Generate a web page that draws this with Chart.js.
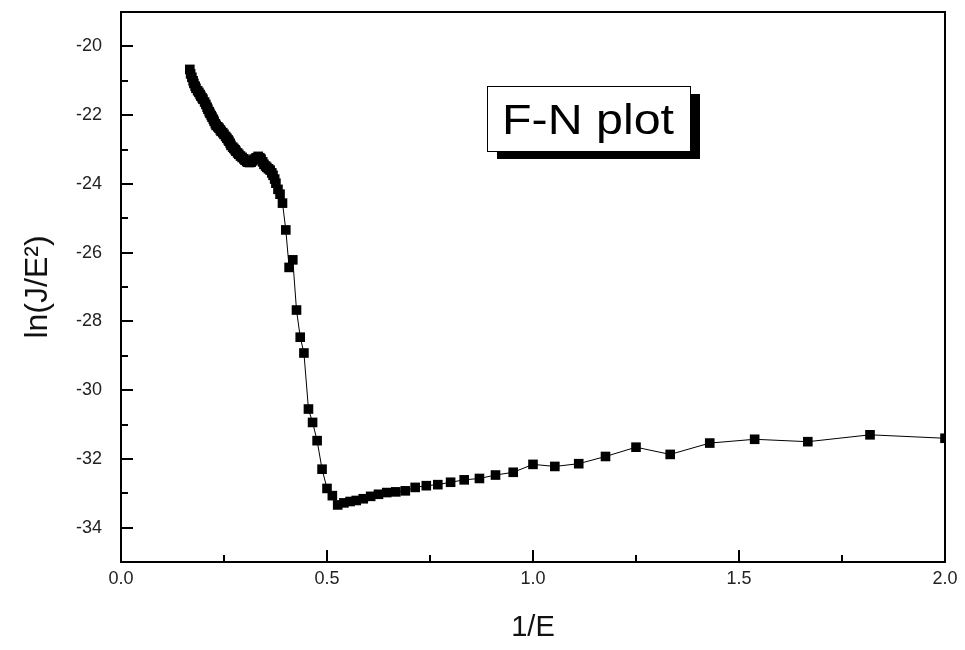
<!DOCTYPE html>
<html>
<head>
<meta charset="utf-8">
<script src="https://cdn.jsdelivr.net/npm/chart.js@4/dist/chart.umd.min.js"></script>
<style>
html,body{margin:0;padding:0;background:#fff;}
#wrap{width:965px;height:650px;position:relative;}
</style>
</head>
<body>
<div id="wrap"><canvas id="c" width="965" height="650"></canvas></div>
<script>
// 1/E values
const invE = [0.167,0.169,0.172,0.175,0.177,0.180,0.182,0.186,0.189,0.192,0.194,0.197,0.199,0.203,0.206,0.209,0.211,0.214,0.216,0.219,0.221,0.224,0.226,0.229,0.231,0.235,0.238,0.241,0.243,0.247,0.250,0.254,0.257,0.260,0.262,0.265,0.267,0.271,0.274,0.277,0.279,0.283,0.286,0.290,0.294,0.298,0.301,0.305,0.308,0.312,0.316,0.320,0.323,0.328,0.333,0.337,0.340,0.344,0.347,0.351,0.354,0.358,0.362,0.366,0.369,0.373,0.376,0.381,0.386,0.392,0.400,0.408,0.417,0.426,0.435,0.444,0.455,0.465,0.476,0.488,0.500,0.513,0.526,0.541,0.556,0.571,0.588,0.606,0.625,0.645,0.667,0.690,0.714,0.741,0.769,0.800,0.833,0.870,0.909,0.952,1.000,1.053,1.111,1.176,1.250,1.333,1.429,1.538,1.667,1.818,2.000];
// ln(J/E^2) values
const lnJE2 = [-20.67,-20.80,-20.90,-21.00,-21.08,-21.16,-21.22,-21.29,-21.34,-21.40,-21.45,-21.50,-21.54,-21.62,-21.69,-21.77,-21.83,-21.90,-21.95,-22.01,-22.06,-22.12,-22.18,-22.25,-22.30,-22.34,-22.38,-22.43,-22.47,-22.51,-22.56,-22.62,-22.67,-22.72,-22.76,-22.82,-22.88,-22.93,-22.97,-23.01,-23.05,-23.10,-23.14,-23.19,-23.23,-23.27,-23.31,-23.35,-23.37,-23.38,-23.37,-23.33,-23.28,-23.24,-23.20,-23.24,-23.28,-23.36,-23.43,-23.48,-23.52,-23.56,-23.60,-23.68,-23.75,-23.86,-23.98,-24.16,-24.30,-24.56,-25.34,-26.43,-26.21,-27.67,-28.46,-28.92,-30.55,-30.94,-31.47,-32.30,-32.86,-33.07,-33.34,-33.28,-33.24,-33.21,-33.16,-33.09,-33.03,-32.98,-32.96,-32.93,-32.83,-32.78,-32.75,-32.68,-32.61,-32.57,-32.47,-32.39,-32.16,-32.22,-32.14,-31.93,-31.66,-31.87,-31.54,-31.43,-31.50,-31.30,-31.40];
// axis tick labels
const xTickLabels = ['0.0','0.5','1.0','1.5','2.0'];
const yTickLabels = ['-34','-32','-30','-28','-26','-24','-22','-20'];
const xTitle = '1/E';
const yTitle = 'ln(J/E\u00B2)';
const boxText = 'F-N plot';

const points = invE.map((x,i)=>({x:x,y:lnJE2[i]}));

const frameTicks = {
  id:'frameTicks',
  afterDraw(chart){
    const ctx = chart.ctx, a = chart.chartArea;
    const xs = chart.scales.x, ys = chart.scales.y;
    ctx.save();
    ctx.strokeStyle = '#000';
    ctx.lineWidth = 2;
    ys.ticks.forEach(t=>{
      const major = yTickLabels.indexOf(String(t.value)) >= 0;
      const p = Math.round(ys.getPixelForValue(t.value));
      if (t.value === ys.min || t.value === ys.max) return;
      ctx.beginPath();
      ctx.moveTo(a.left, p);
      ctx.lineTo(a.left + (major ? 12 : 7), p);
      ctx.stroke();
    });
    xs.ticks.forEach(t=>{
      const major = Math.abs(t.value*2-Math.round(t.value*2))<1e-6 && xTickLabels.indexOf(t.value.toFixed(1)) >= 0;
      const p = Math.round(xs.getPixelForValue(t.value));
      if (t.value === xs.min || t.value === xs.max) return;
      ctx.beginPath();
      ctx.moveTo(p, a.bottom);
      ctx.lineTo(p, a.bottom - (major ? 12 : 7));
      ctx.stroke();
    });
    ctx.lineWidth = 2;
    ctx.strokeRect(a.left, a.top, a.right - a.left, a.bottom - a.top);
    // text box with shadow
    const bx = 487, by = 86, bw = 203, bh = 65;
    ctx.fillStyle = '#000';
    ctx.fillRect(bx + 10, by + 8, bw, bh);
    ctx.fillStyle = '#fff';
    ctx.fillRect(bx, by, bw, bh);
    ctx.lineWidth = 1;
    ctx.strokeStyle = '#000';
    ctx.strokeRect(bx + 0.5, by + 0.5, bw, bh);
    ctx.fillStyle = '#000';
    ctx.font = '42px "Liberation Sans", Arial, sans-serif';
    ctx.textBaseline = 'alphabetic';
    ctx.textAlign = 'left';
    const w = ctx.measureText(boxText).width;
    const sx = 172 / w;
    ctx.translate(502, 134);
    ctx.scale(sx, 1);
    ctx.fillText(boxText, 0, 0);
    ctx.restore();
  }
};

new Chart(document.getElementById('c'), {
  type: 'scatter',
  data: {
    datasets: [{
      data: points,
      showLine: true,
      borderColor: '#000',
      borderWidth: 1,
      backgroundColor: '#000',
      pointStyle: 'rect',
      pointRadius: 6.8,
      pointBorderWidth: 0,
      pointBackgroundColor: '#000',
      pointBorderColor: '#000',
      clip: 0,
      tension: 0
    }]
  },
  options: {
    responsive: false,
    animation: false,
    events: [],
    layout: { padding: { top: 12, right: 20, left: 0, bottom: 0 } },
    plugins: { legend: { display: false }, tooltip: { enabled: false } },
    scales: {
      x: {
        type: 'linear',
        min: 0, max: 2,
        grid: { display: false, drawTicks: false },
        border: { display: false },
        ticks: {
          stepSize: 0.25,
          padding: 6,
          color: '#222',
          font: { family: '"Liberation Sans", Arial, sans-serif', size: 18 },
          maxRotation: 0,
          autoSkip: false,
          callback: (v) => { const s = Number(v).toFixed(1); return (Math.abs(v*2-Math.round(v*2))<1e-6 && xTickLabels.includes(s)) ? s : ''; }
        },
        title: {
          display: true, text: xTitle, color: '#111',
          font: { family: '"Liberation Sans", Arial, sans-serif', size: 29 },
          padding: { top: 0, bottom: 5 }
        },
        afterFit: (s) => { s.height = 88; s.paddingLeft = 0; s.paddingRight = 0; }
      },
      y: {
        type: 'linear',
        min: -35, max: -19,
        grid: { display: false, drawTicks: false },
        border: { display: false },
        ticks: {
          stepSize: 1,
          padding: 19,
          color: '#222',
          font: { family: '"Liberation Sans", Arial, sans-serif', size: 18 },
          autoSkip: false,
          callback: (v) => yTickLabels.includes(String(v)) ? String(v) : ''
        },
        title: {
          display: true, text: yTitle, color: '#111',
          font: { family: '"Liberation Sans", Arial, sans-serif', size: 32 },
          padding: { top: 19, bottom: 0 }
        },
        afterFit: (s) => { s.width = 121; s.paddingTop = 0; s.paddingBottom = 0; }
      }
    }
  },
  plugins: [frameTicks]
});
</script>
</body>
</html>
